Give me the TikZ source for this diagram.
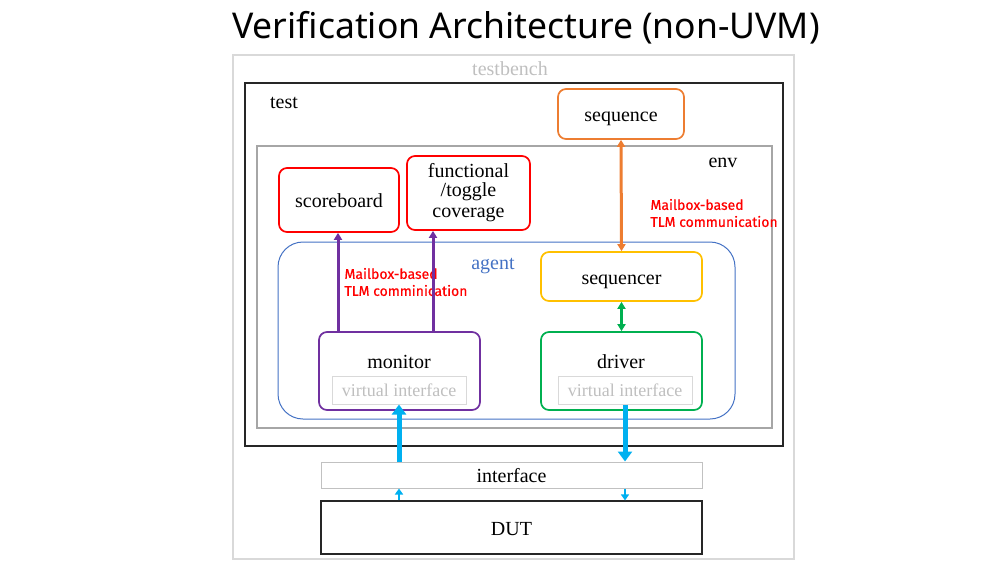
\documentclass[tikz,border=0pt]{standalone}
\usepackage{fontspec}
\usepackage{tikz}
\usetikzlibrary{arrows.meta}
\setmainfont{Liberation Serif}
\newfontfamily\titlefont{Noto Sans}
\newfontfamily\notefont[FakeBold=0.5]{Fira Sans}
\definecolor{tbgray}{HTML}{D9D9D9}
\definecolor{txtgray}{HTML}{BFBFBF}
\definecolor{envgray}{HTML}{A6A6A6}
\definecolor{seqorange}{HTML}{ED7D31}
\definecolor{agentblue}{HTML}{4472C4}
\definecolor{sqryellow}{HTML}{FFC000}
\definecolor{drvgreen}{HTML}{00B050}
\definecolor{monpurple}{HTML}{7030A0}
\definecolor{ifccyan}{HTML}{00B0F0}
\definecolor{notered}{HTML}{FF0000}

\begin{document}
\begin{tikzpicture}[x=1pt,y=-1pt,>={Triangle[length=7pt,width=8pt]},
    every node/.style={font=\fontsize{20}{22}\selectfont},
    box/.style={draw,line width=1.2pt,inner sep=0pt},
    rbox/.style={box,line width=1.7pt,rounded corners=8pt,align=center},
    lbl/.style={text height=16pt,text depth=1pt},
    vibox/.style={draw=tbgray,line width=1pt,minimum width=134pt,minimum height=28pt,
        text=txtgray,font=\fontsize{18}{20}\selectfont},
    note/.style={text=notered,font=\notefont\fontsize{14}{17}\selectfont,align=left,anchor=west},
    mbx/.style={monpurple,line width=3pt,->},
    bidir/.style={line width=3pt,<->},
    bigcyan/.style={ifccyan,line width=5pt,-{Triangle[length=10pt,width=14pt]}},
    smallcyan/.style={ifccyan,line width=1.8pt,-{Triangle[length=6pt,width=8pt]}}]
\useasboundingbox (0,0) rectangle (1000,562);

\node[font=\titlefont\fontsize{35.5}{38}\selectfont] (title) at (526,28) {Verification Architecture (non-UVM)};

% containers
\node[box,draw=tbgray,minimum width=561pt,minimum height=504pt] (tb) at (513.5,307) {};
\node[text=txtgray] (tbl) at (510,69) {testbench};
\node[box,draw=black!85,minimum width=538pt,minimum height=363pt] (test) at (514,264.5) {};
\node (testl) at (284,103) {test};
\node[box,draw=envgray,minimum width=515pt,minimum height=282pt] (env) at (514.5,287) {};
\node (envl) at (723,163) {env};
\node[box,draw=agentblue,line width=1pt,rounded corners=25pt,minimum width=457pt,minimum height=177pt] (agent) at (506.5,330.5) {};
\node[text=agentblue] (agentl) at (493,266) {agent};

% components
\node[rbox,lbl,draw=seqorange,minimum width=126pt,minimum height=50pt] (seq) at (621,114) {sequence};
\node[rbox,lbl,draw=notered,minimum width=120pt,minimum height=64pt] (sb) at (339,200) {scoreboard};
\node[rbox,draw=notered,minimum width=123pt,minimum height=74pt] (cov) at (468.5,193) {\raisebox{-2pt}{functional}\\[-1pt]/toggle\\[-1pt]coverage};
\node[rbox,lbl,draw=sqryellow,minimum width=161pt,minimum height=49pt] (sqr) at (621.5,276.5) {sequencer};
\node[rbox,draw=monpurple,minimum width=161pt,minimum height=78pt] (mon) at (399.5,371) {};
\node (monl) at (399,362) {monitor};
\node[vibox] (mvi) at (399,390) {virtual interface};
\node[rbox,draw=drvgreen,minimum width=161pt,minimum height=78pt] (drv) at (621.5,371) {};
\node (drvl) at (621,362) {driver};
\node[vibox] (dvi) at (625,390) {virtual interface};

\node[box,lbl,draw=envgray!70,line width=1pt,minimum width=381pt,minimum height=26pt] (ifc) at (511.5,475) {interface};
\node[box,lbl,draw=black!85,minimum width=381pt,minimum height=53pt] (dut) at (511.5,527.5) {DUT};

% labels
\node[note] (tlm1) at (647,213) {Mailbox-based\\TLM communication};
\node[note] (tlm2) at (341,282) {Mailbox-based\\TLM comminication};

% connections
\draw[seqorange,bidir] (seq.south) -- (sqr.north);
\draw[drvgreen,bidir] (sqr.south) -- (drv.north);
\draw[mbx] (mon.north -| 338,0) -- (sb.south -| 338,0);
\draw[mbx] (mon.north -| 433,0) -- (cov.south -| 433,0);
\draw[bigcyan] (ifc.north -| mvi.south) -- (mvi.south);
\draw[bigcyan] (dvi.south) -- (ifc.north -| dvi.south);
\draw[smallcyan] (dut.north -| mvi.south) -- (ifc.south -| mvi.south);
\draw[smallcyan] (ifc.south -| dvi.south) -- (dut.north -| dvi.south);
\end{tikzpicture}
\end{document}
